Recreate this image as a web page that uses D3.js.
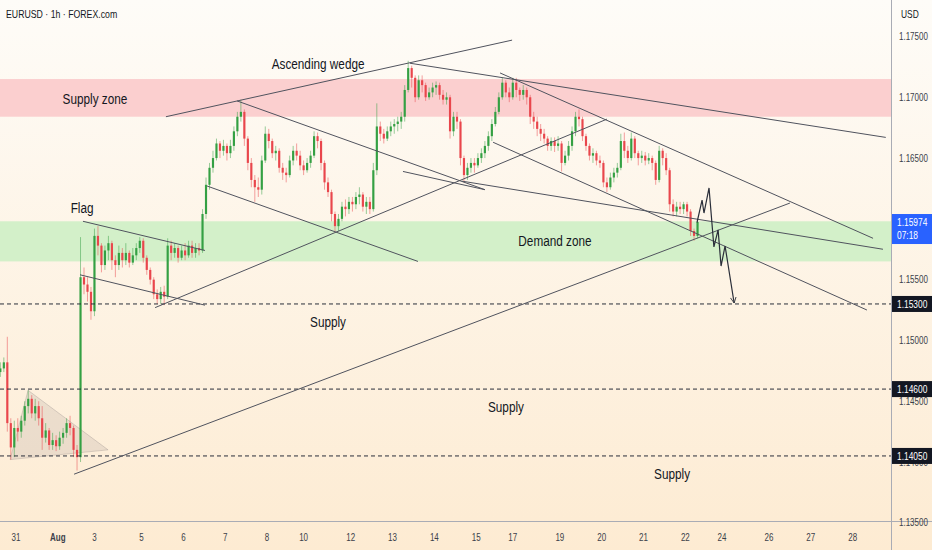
<!DOCTYPE html>
<html lang="en">
  <head>
    <meta charset="UTF-8" />
    <title>EURUSD 1h</title>
    <style>
      html,
      body {
        margin: 0;
        padding: 0;
        background: #fdf6ec;
      }
      svg {
        display: block;
        font-family: "Liberation Sans Narrow", "Liberation Sans", sans-serif;
      }
      .note {
        font-size: 14px;
        fill: #131722;
      }
      .axis-label {
        font-size: 10px;
        fill: #3b3f4a;
      }
    </style>
    <script src="https://cdn.jsdelivr.net/npm/d3@7"></script>
  </head>
  <body>
    <div class="container"></div>
    <script>
      // 2h candles, first one starts 10h before Jul 31 00:00 (hours counted in trading time)
      const startHour = -10;
      const barHours = 2;
      const firstOpen = 1.1474;

      const closes = [
        1.1477, 1.1482, 1.1432, 1.1412, 1.1428, 1.1425, 1.1434, 1.1446, 1.1452, 1.144,
        1.1446, 1.1436, 1.142, 1.1426, 1.1414, 1.1418, 1.1413, 1.142, 1.1424, 1.1432,
        1.1428, 1.141, 1.1404, 1.1552, 1.1546, 1.154, 1.1524, 1.1586,
        1.1578, 1.1562, 1.1574, 1.158, 1.1566, 1.1562, 1.1572, 1.1566, 1.1572, 1.1564,
        1.157, 1.1576, 1.1582, 1.1568, 1.1558, 1.155, 1.1538, 1.1534, 1.154, 1.1536,
        1.1578, 1.1572, 1.1576, 1.1568, 1.1574, 1.157, 1.1578, 1.1572, 1.1576, 1.1574,
        1.1604, 1.1628, 1.1642, 1.165, 1.1662, 1.1656, 1.166, 1.1654, 1.166, 1.1672,
        1.1684, 1.1688, 1.1666, 1.1646, 1.1632, 1.1626, 1.1624, 1.1648, 1.167, 1.1664,
        1.1654, 1.1656, 1.1642, 1.1638, 1.1636, 1.1648, 1.1656, 1.1652, 1.1644, 1.164,
        1.1646, 1.1652, 1.1668, 1.1664, 1.1646, 1.163, 1.1622, 1.1604, 1.1594, 1.16,
        1.161, 1.1608, 1.1614, 1.1612, 1.1618, 1.162, 1.161, 1.1614, 1.1608,
        1.164, 1.1676, 1.167, 1.1666, 1.1672, 1.1676, 1.1678, 1.168, 1.1684, 1.1706,
        1.1724, 1.1716, 1.17, 1.1714, 1.171, 1.17, 1.1704, 1.1708, 1.171, 1.1702,
        1.1698, 1.17, 1.1672, 1.1684, 1.168, 1.165, 1.1636, 1.1642, 1.1646, 1.1644,
        1.165, 1.1654, 1.166, 1.1668, 1.1678, 1.1688, 1.17, 1.1712, 1.1704, 1.17,
        1.1712, 1.1706, 1.1702, 1.1706, 1.17, 1.1684, 1.168, 1.1674, 1.167,
        1.1666, 1.166, 1.1664, 1.166, 1.1662, 1.1646, 1.1652, 1.166, 1.1672, 1.1684,
        1.1682, 1.1668, 1.166, 1.1652, 1.1654, 1.1648, 1.1646, 1.163, 1.1626, 1.1634,
        1.1638, 1.1642, 1.1664, 1.1656, 1.165, 1.1666, 1.1654, 1.165, 1.1652, 1.1648,
        1.165, 1.1646, 1.1632, 1.1656, 1.165, 1.164, 1.1612, 1.1606, 1.161, 1.1608,
        1.1612, 1.1606, 1.159, 1.1586, 1.15974,
      ];

      const highs = [
        1.1482, 1.1486, 1.1503, 1.1436, 1.1434, 1.1436, 1.1438, 1.145, 1.1459, 1.1455,
        1.1452, 1.145, 1.1446, 1.1432, 1.1428, 1.1424, 1.1422, 1.1425, 1.1428, 1.1436,
        1.1438, 1.143, 1.1414, 1.1585, 1.156, 1.1552, 1.1544, 1.1592,
        1.1594, 1.158, 1.1578, 1.1586, 1.1582, 1.157, 1.1578, 1.1576, 1.158, 1.1574,
        1.1576, 1.158, 1.1585, 1.1584, 1.157, 1.156, 1.1552, 1.1542, 1.1544, 1.1545,
        1.1584, 1.1582, 1.158, 1.1578, 1.1578, 1.158, 1.1582, 1.1582, 1.158, 1.158,
        1.1608, 1.1634, 1.1646, 1.1656, 1.1666, 1.1664, 1.1665, 1.1662, 1.1665, 1.1676,
        1.1688, 1.1698, 1.169, 1.1668, 1.165, 1.1636, 1.1634, 1.1652, 1.1676, 1.1674,
        1.1666, 1.166, 1.1658, 1.1646, 1.1642, 1.1652, 1.166, 1.1662, 1.1656, 1.1648,
        1.165, 1.1656, 1.1672, 1.1671, 1.1666, 1.1648, 1.1634, 1.1624, 1.1606, 1.1604,
        1.1614, 1.1616, 1.1618, 1.1618, 1.1622, 1.1626, 1.1622, 1.1618, 1.1618,
        1.1646, 1.1695, 1.168, 1.1674, 1.1676, 1.168, 1.1682, 1.1684, 1.1688, 1.171,
        1.173, 1.1726, 1.1718, 1.1718, 1.1718, 1.1712, 1.1708, 1.1712, 1.1713, 1.1712,
        1.1706, 1.1704, 1.1702, 1.1688, 1.1688, 1.1682, 1.1652, 1.1646, 1.165, 1.165,
        1.1654, 1.1658, 1.1664, 1.1672, 1.1682, 1.1692, 1.1704, 1.1716, 1.1714, 1.1708,
        1.1716, 1.1716, 1.1708, 1.171, 1.1708, 1.1702, 1.1688, 1.1684, 1.1678,
        1.1674, 1.1668, 1.1667, 1.1667, 1.1668, 1.1664, 1.1656, 1.1664, 1.1676, 1.1688,
        1.169, 1.1684, 1.167, 1.1662, 1.1658, 1.1656, 1.1652, 1.1648, 1.1634, 1.1638,
        1.1642, 1.1646, 1.167, 1.1671, 1.166, 1.1671, 1.1668, 1.1656, 1.1656, 1.1655,
        1.1654, 1.1652, 1.1648, 1.166, 1.1658, 1.1654, 1.1642, 1.1616, 1.1614, 1.1614,
        1.1614, 1.1614, 1.1608, 1.1592, 1.16,
      ];

      const lows = [
        1.147, 1.1474, 1.1425, 1.1402, 1.1404, 1.1417, 1.142, 1.143, 1.144, 1.1436,
        1.1434, 1.143, 1.141, 1.1416, 1.141, 1.141, 1.1409, 1.141, 1.1415, 1.142,
        1.1422, 1.1404, 1.1393, 1.14, 1.1538, 1.1532, 1.1517, 1.152,
        1.157, 1.1556, 1.1558, 1.1566, 1.1558, 1.1552, 1.1558, 1.156, 1.1562, 1.156,
        1.1562, 1.1566, 1.1572, 1.1564, 1.1554, 1.1546, 1.1534, 1.153, 1.153, 1.1529,
        1.1534, 1.1566, 1.1568, 1.1564, 1.1566, 1.1566, 1.1568, 1.1568, 1.1568, 1.157,
        1.1572, 1.16, 1.1624, 1.1638, 1.1648, 1.165, 1.1652, 1.1648, 1.165, 1.1656,
        1.1668, 1.168, 1.166, 1.164, 1.1626, 1.1614, 1.1618, 1.162, 1.1646, 1.1658,
        1.165, 1.1648, 1.1638, 1.1632, 1.163, 1.1634, 1.1644, 1.1648, 1.164, 1.1636,
        1.1638, 1.1642, 1.165, 1.1658, 1.164, 1.1624, 1.1618, 1.1598, 1.1589, 1.159,
        1.1598, 1.1602, 1.1604, 1.1606, 1.1608, 1.1612, 1.1606, 1.1604, 1.1604,
        1.1606, 1.1636, 1.1664, 1.1662, 1.1664, 1.1668, 1.167, 1.1672, 1.1674, 1.168,
        1.1704, 1.1708, 1.1696, 1.1698, 1.1704, 1.1697, 1.1698, 1.17, 1.1702, 1.1698,
        1.1694, 1.1694, 1.1666, 1.1668, 1.1674, 1.1644, 1.163, 1.1632, 1.1638, 1.1638,
        1.1642, 1.1646, 1.165, 1.1656, 1.1664, 1.1676, 1.1686, 1.1698, 1.17, 1.1696,
        1.1698, 1.17, 1.1697, 1.1698, 1.1694, 1.1678, 1.1674, 1.1668, 1.1664,
        1.1662, 1.1656, 1.1656, 1.1655, 1.1656, 1.1639, 1.1644, 1.1648, 1.1656, 1.1668,
        1.1676, 1.1664, 1.1656, 1.1648, 1.1646, 1.1644, 1.1642, 1.1626, 1.1622, 1.1624,
        1.163, 1.1634, 1.164, 1.165, 1.1646, 1.1648, 1.165, 1.1644, 1.1646, 1.1644,
        1.1645, 1.164, 1.1628, 1.163, 1.1644, 1.1636, 1.1606, 1.1602, 1.1602, 1.1604,
        1.1604, 1.1602, 1.1586, 1.1582, 1.1584,
      ];

      // zones and levels
      const supplyZone = [1.1684, 1.1715];
      const demandZone = [1.1565, 1.1598];
      const levels = [1.153, 1.146, 1.1405];
      const levelTexts = ["1.15300", "1.14600", "1.14050"];
      const lastPrice = 1.15974;
      const countdown = "07:18";

      // drawn trend lines: [hour1, price1, hour2, price2]
      const trendLines = [
        [86, 1.1684, 284.6, 1.1747],
        [126.8, 1.1697, 269, 1.1624],
        [109.6, 1.1627, 230.6, 1.1565],
        [33.3, 1.139, 444, 1.1613],
        [79.8, 1.1527, 339, 1.1682],
        [222, 1.1639, 269, 1.1624],
        [255.9, 1.1631, 497.4, 1.1575],
        [226, 1.1728, 499, 1.1667],
        [277.7, 1.172, 491.7, 1.1584],
        [273.7, 1.1663, 488.2, 1.1525],
        [38.4, 1.1598, 108.4, 1.1574],
        [36.7, 1.1554, 108.4, 1.1529],
      ];

      const triangleHours = [-3.4, 6.9, 52.8];
      const trianglePrices = [1.1402, 1.1459, 1.141];

      const pathHours = [390.7, 393.6, 394.7, 397.6, 400.4, 402.8, 404.5, 406.8, 412];
      const pathPrices = [1.1597, 1.16155, 1.16048, 1.16254, 1.15769, 1.15909, 1.15612, 1.15777, 1.15308];

      const noteTexts = ["Supply zone", "Flag", "Ascending wedge", "Demand zone", "Supply", "Supply", "Supply"];
      const noteHours = [45.3, 37.9, 173.3, 309.2, 179, 281.1, 376.4];
      const notePrices = [1.16986, 1.1609, 1.17274, 1.15818, 1.15152, 1.14453, 1.13902];

      const priceTicks = [1.175, 1.17, 1.165, 1.155, 1.15, 1.145, 1.14, 1.135];
      const dateLabels = ["31", "Aug", "3", "5", "6", "7", "8", "10", "12", "13", "14", "15", "17", "19", "20", "21", "22", "24", "26", "27", "28"];
      const dateHours = [0, 24, 45, 72, 96, 120, 144, 165, 192, 216, 240, 264, 285, 312, 336, 360, 384, 405, 432, 456, 480];

      // squeeze text horizontally, the chart font is a narrow one
      function condense(sel, k) {
        sel.each(function () {
          const w = this.getComputedTextLength();
          d3.select(this).attr("textLength", w * k).attr("lengthAdjust", "spacingAndGlyphs");
        });
      }

      function init() {
        const width = 932,
          height = 550,
          plotW = 891,
          plotH = 521;

        const x = d3.scaleLinear().domain([-9.2, 502]).range([0, plotW]);
        const y = d3.scaleLinear().domain([1.13515, 1.178]).range([plotH, 0]);

        const svg = d3
          .select(".container")
          .append("svg")
          .attr("width", width)
          .attr("height", height);

        const defs = svg.append("defs");
        const grad = defs
          .append("linearGradient")
          .attr("id", "bg")
          .attr("x1", 0)
          .attr("y1", 0)
          .attr("x2", 0)
          .attr("y2", 1);
        grad.append("stop").attr("offset", "0%").attr("stop-color", "#fefcf8");
        grad.append("stop").attr("offset", "100%").attr("stop-color", "#fdebd2");

        defs
          .append("marker")
          .attr("id", "arrow")
          .attr("viewBox", "0 0 10 10")
          .attr("refX", 9)
          .attr("refY", 5)
          .attr("markerWidth", 7)
          .attr("markerHeight", 7)
          .attr("markerUnits", "userSpaceOnUse")
          .attr("orient", "auto")
          .append("path")
          .attr("d", "M1,1 L9,5 L1,9")
          .attr("fill", "none")
          .attr("stroke", "#2a2e39")
          .attr("stroke-width", 1.2);

        defs
          .append("clipPath")
          .attr("id", "plot")
          .append("rect")
          .attr("width", plotW)
          .attr("height", plotH);

        svg.append("rect").attr("width", width).attr("height", height).attr("fill", "url(#bg)");

        const g = svg.append("g").attr("clip-path", "url(#plot)");

        // zones
        g.append("rect")
          .attr("x", 0)
          .attr("width", plotW)
          .attr("y", y(supplyZone[1]))
          .attr("height", y(supplyZone[0]) - y(supplyZone[1]))
          .attr("fill", "#fbcfcf");

        g.append("rect")
          .attr("x", 0)
          .attr("width", plotW)
          .attr("y", y(demandZone[1]))
          .attr("height", y(demandZone[0]) - y(demandZone[1]))
          .attr("fill", "#d3f0c9");

        // triangle
        g.append("polygon")
          .attr(
            "points",
            triangleHours.map((h, i) => x(h) + "," + y(trianglePrices[i])).join(" ")
          )
          .attr("fill", "rgba(140,130,130,0.16)")
          .attr("stroke", "rgba(140,130,130,0.3)")
          .attr("stroke-width", 1);

        // candles
        const candles = closes.map((c, i) => {
          const o = i === 0 ? firstOpen : closes[i - 1];
          return {
            t: startHour + i * barHours + barHours / 2,
            o: o,
            c: c,
            h: Math.max(highs[i], o, c),
            l: Math.min(lows[i], o, c),
          };
        });

        const step = x(barHours) - x(0);
        const bodyW = step * 0.62;
        const up = "#34a043",
          down = "#e9464c";

        const cg = g.selectAll(".candle").data(candles).enter().append("g").attr("class", "candle");

        cg.append("line")
          .attr("x1", (d) => x(d.t))
          .attr("x2", (d) => x(d.t))
          .attr("y1", (d) => y(d.h))
          .attr("y2", (d) => y(d.l))
          .attr("stroke", (d) => (d.c >= d.o ? up : down))
          .attr("stroke-opacity", 0.5)
          .attr("stroke-width", 1);

        cg.append("rect")
          .attr("x", (d) => x(d.t) - bodyW / 2)
          .attr("width", bodyW)
          .attr("y", (d) => y(Math.max(d.o, d.c)))
          .attr("height", (d) => Math.max(1, Math.abs(y(d.o) - y(d.c))))
          .attr("fill", (d) => (d.c >= d.o ? up : down));

        // dashed levels
        g.selectAll(".level")
          .data(levels)
          .enter()
          .append("line")
          .attr("x1", 0)
          .attr("x2", plotW)
          .attr("y1", (d) => y(d))
          .attr("y2", (d) => y(d))
          .attr("stroke", "#2a2e39")
          .attr("stroke-width", 1)
          .attr("stroke-dasharray", "4,3");

        // trend lines
        g.selectAll(".trend")
          .data(trendLines)
          .enter()
          .append("line")
          .attr("x1", (d) => x(d[0]))
          .attr("y1", (d) => y(d[1]))
          .attr("x2", (d) => x(d[2]))
          .attr("y2", (d) => y(d[3]))
          .attr("stroke", "#50535e")
          .attr("stroke-width", 1);

        // projected path
        g.append("path")
          .attr(
            "d",
            d3
              .line()
              .x((d) => x(d))
              .y((d, i) => y(pathPrices[i]))(pathHours)
          )
          .attr("fill", "none")
          .attr("stroke", "#2a2e39")
          .attr("stroke-width", 1.2)
          .attr("marker-end", "url(#arrow)");

        // notes
        const notes = g
          .selectAll(".note")
          .data(noteTexts)
          .enter()
          .append("text")
          .attr("class", "note")
          .attr("x", (d, i) => x(noteHours[i]))
          .attr("y", (d, i) => y(notePrices[i]))
          .attr("dy", "0.35em")
          .attr("text-anchor", "middle")
          .text((d) => d);
        condense(notes, 0.84);

        // axes frame
        svg.append("line")
          .attr("x1", plotW + 0.5)
          .attr("x2", plotW + 0.5)
          .attr("y1", 0)
          .attr("y2", height)
          .attr("stroke", "#a9acb5");
        svg.append("line")
          .attr("x1", 0)
          .attr("x2", width)
          .attr("y1", plotH + 0.5)
          .attr("y2", plotH + 0.5)
          .attr("stroke", "#a9acb5");

        // price ticks
        const pt = svg
          .selectAll(".ptick")
          .data(priceTicks)
          .enter()
          .append("text")
          .attr("class", "axis-label")
          .attr("x", plotW + 8)
          .attr("y", (d) => y(d))
          .attr("dy", "0.35em")
          .text((d) => d.toFixed(5));
        condense(pt, 0.8);

        // date ticks
        const dt = svg
          .selectAll(".dtick")
          .data(dateLabels)
          .enter()
          .append("text")
          .attr("class", "axis-label")
          .attr("x", (d, i) => x(dateHours[i]))
          .attr("y", 541)
          .attr("text-anchor", "middle")
          .attr("font-weight", (d) => (d === "Aug" ? "bold" : null))
          .text((d) => d);
        condense(dt, 0.8);

        // level boxes
        const boxes = svg
          .selectAll(".lbox")
          .data(levels)
          .enter()
          .append("g")
          .attr("transform", (d) => "translate(" + (plotW + 1) + "," + y(d) + ")");
        boxes.append("rect").attr("x", 0).attr("y", -8).attr("width", 41).attr("height", 16).attr("fill", "#131722");
        const bt = boxes
          .append("text")
          .attr("x", 5)
          .attr("dy", "0.35em")
          .attr("font-size", 10.5)
          .attr("fill", "#fff")
          .text((d, i) => levelTexts[i]);
        condense(bt, 0.8);

        // last price box
        const lp = svg.append("g").attr("transform", "translate(" + (plotW + 1) + "," + y(lastPrice) + ")");
        lp.append("rect").attr("x", 0).attr("y", -8).attr("width", 41).attr("height", 30).attr("fill", "#2962ff");
        const lt = lp
          .selectAll(".lt")
          .data([lastPrice.toFixed(5), countdown])
          .enter()
          .append("text")
          .attr("x", 5)
          .attr("y", (d, i) => i * 13)
          .attr("dy", "0.35em")
          .attr("font-size", 10.5)
          .attr("fill", "#fff")
          .text((d) => d);
        condense(lt, 0.8);

        // header
        const title = svg
          .append("text")
          .attr("x", 6)
          .attr("y", 18)
          .attr("font-size", 11.5)
          .attr("fill", "#131722")
          .text("EURUSD · 1h · FOREX.com");
        condense(title, 0.76);
        const cur = svg
          .append("text")
          .attr("x", plotW + 10)
          .attr("y", 18)
          .attr("font-size", 10.5)
          .attr("fill", "#131722")
          .text("USD");
        condense(cur, 0.8);
      }
      init();
    </script>
  </body>
</html>
